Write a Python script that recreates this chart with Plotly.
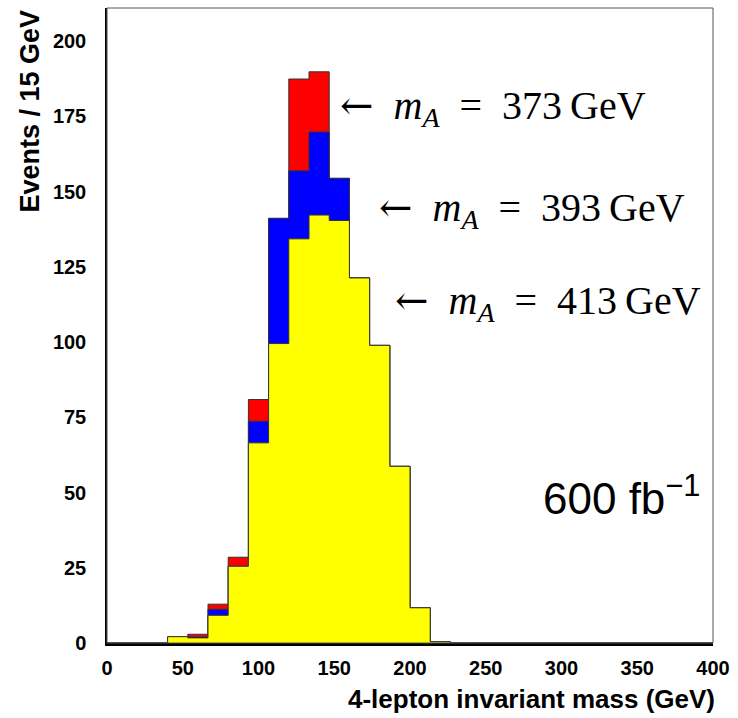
import numpy as np
import plotly.graph_objects as go

# 30 bins of 400/30 GeV between 0 and 400 GeV
x_min, x_max, n_bins = 0, 400, 30
edges = np.linspace(x_min, x_max, n_bins + 1)

# Event counts per bin for the three pseudoscalar masses
counts_373 = [0, 0, 0, 2.0, 2.9, 12.9, 28.5, 80.9, 141.1, 187.4, 189.8, 154.4, 121.3, 98.9, 58.7,
              11.7, 0.4, 0, 0, 0, 0, 0, 0, 0, 0, 0, 0, 0, 0, 0]
counts_393 = [0, 0, 0, 2.0, 2.0, 11.2, 25.5, 73.7, 141.1, 156.9, 169.8, 154.4, 121.3, 98.9, 58.7,
              11.7, 0.4, 0, 0, 0, 0, 0, 0, 0, 0, 0, 0, 0, 0, 0]
counts_413 = [0, 0, 0, 2.1, 1.7, 9.2, 25.5, 66.5, 99.5, 134.3, 142.2, 140.4, 121.3, 98.9, 58.7,
              11.7, 0.4, 0, 0, 0, 0, 0, 0, 0, 0, 0, 0, 0, 0, 0]

x_ticks = [0, 50, 100, 150, 200, 250, 300, 350, 400]
y_ticks = [0, 25, 50, 75, 100, 125, 150, 175, 200]

series = [
    ("m_A = 373 GeV", counts_373, "#ff0000"),
    ("m_A = 393 GeV", counts_393, "#0000ff"),
    ("m_A = 413 GeV", counts_413, "#ffff00"),
]

fig = go.Figure()
for name, counts, color in series:
    y = list(counts) + [counts[-1]]
    fig.add_trace(go.Scatter(
        x=edges, y=y, name=name, mode="lines", line_shape="hv",
        line=dict(color="#333333", width=1),
        fill="tozeroy", fillcolor=color, showlegend=False, hoverinfo="skip",
    ))

tick_font = dict(family="Liberation Sans", size=20, color="black")

fig.update_layout(
    width=738, height=718,
    margin=dict(l=107, r=21, t=8, b=75),
    paper_bgcolor="white", plot_bgcolor="white",
    xaxis=dict(range=[x_min, x_max], tickvals=x_ticks,
               ticktext=["<b>%d</b>" % v for v in x_ticks],
               showgrid=False, zeroline=False, showline=True, linecolor="black", linewidth=2.5,
               ticks="", tickfont=tick_font, ticklabelstandoff=5),
    yaxis=dict(range=[0, 211], tickvals=y_ticks,
               ticktext=["<b>%d</b>" % v for v in y_ticks],
               showgrid=False, zeroline=False, showline=True, linecolor="black", linewidth=1.5,
               ticks="", tickfont=tick_font, ticklabelstandoff=15),
    shapes=[dict(type="rect", xref="paper", yref="paper", x0=0, x1=1, y0=0, y1=1,
                 line=dict(color="#555555", width=1), layer="above")],
)

fig.add_annotation(xref="paper", yref="paper", x=1, y=0, xshift=4, yshift=-39,
                   xanchor="right", yanchor="top",
                   text="<b>4-lepton invariant mass (GeV)</b>", showarrow=False,
                   font=dict(family="Liberation Sans", size=26, color="black"))
fig.add_annotation(xref="paper", yref="paper", x=0, y=1, xshift=-95, xanchor="left", yanchor="top",
                   text="<b>Events / 15 GeV</b>", textangle=-90, showarrow=False,
                   font=dict(family="Liberation Sans", size=27, color="black"))

label_font = dict(family="Liberation Serif", size=40, color="black")
arrow = '<span style="font-family:DejaVu Serif">←</span>'
for text, xpos, ypos in [("373", 152.5, 178), ("393", 178.5, 144), ("413", 188.5, 113)]:
    fig.add_annotation(x=xpos, y=ypos, xanchor="left", yanchor="middle",
                       text=arrow + "\u2002<i>m</i><sub><i>A</i></sub>\u2002=\u2002%s\u2009GeV" % text,
                       showarrow=False, font=label_font)

fig.add_annotation(x=393, y=49, xanchor="right", yanchor="middle",
                   text="600 fb<sup>−1</sup>", showarrow=False,
                   font=dict(family="Liberation Sans", size=44, color="black"))

fig.write_html("out.html")
